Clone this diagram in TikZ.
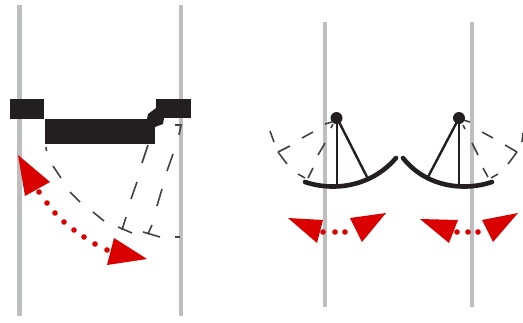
\documentclass[tikz,border=0pt]{standalone}
\definecolor{pole}{HTML}{BCBEC0}
\definecolor{ink}{HTML}{231F20}
\definecolor{arrowred}{HTML}{DA0000}
\tikzset{
  polebar/.style={draw=pole,line width=4.4pt},
  solidblock/.style={fill=ink,draw=none},
  dashpiece/.style={draw=ink!85,line width=1.6pt},
  armline/.style={draw=ink,line width=2.4pt},
  leafarc/.style={draw=ink,line width=4.6pt,line cap=round},
  redtip/.style={fill=arrowred,draw=none},
  reddot/.style={fill=arrowred,draw=none}
}
\begin{document}
\begin{tikzpicture}[x=1pt,y=-1pt]
\useasboundingbox (0,0) rectangle (523,322);
% poles
\draw[polebar] (19.5,5) -- (19.5,316);
\draw[polebar] (181,5) -- (181,316);
\draw[polebar] (325,22) -- (325,307);
\draw[polebar] (472,22) -- (472,307);
% left door: solid blocks
\fill[solidblock] (10,99) rectangle (44,118.5);
\fill[solidblock] (45,119) rectangle (155,144);
\fill[solidblock] (156,99) rectangle (191,118);
\fill[solidblock] (147,119) -- (148,114) -- (156,108) -- (164,118) -- (163,124) -- (155,127) -- (155,119) -- cycle;
% left door: dashed outlines
\foreach \a/\b/\c/\d in {46/147/46.5/151,53/166/61/178,70/192/80/202,93/212/104/221,118/227/132/233,143/232/160/237,175/237/180/237,
  148/145/142/163,137/182/131/199,126/217/122/230,173/154/167/171,162/189/157/206,152/225/148/234}
  \draw[dashpiece] (\a,\b) -- (\c,\d);
\draw[dashpiece] (175,125) -- (181,125) -- (179,135);
% left door: red arrow
\foreach \a/\b in {39/192,47/203,55/213,64/222,74/230,84/237,95/244,107/250}
  \fill[reddot] (\a,\b) circle (2.8pt);
\fill[redtip] (18,155) -- (50,182) -- (25,196) -- cycle;
\fill[redtip] (147,259) -- (107,265) -- (114,238) -- cycle;
% right doors: dashed outlines
\foreach \a/\b/\c/\d in {332/122/325/124,333/124/331/128,313/132/302/138,290/146/278/152,278/152/287/164,270/131/274/142,
  325/143/318/155,313/168/308/178,298/174/305/178,
  470/122/463/120,463/125/465/129,482/132/493/138,505/145/517/152,517/152/508/164,523/133/522/142,
  472/143/478/155,483/168/488/177,498/174/491/178}
  \draw[dashpiece] (\a,\b) -- (\c,\d);
% right doors: arms and leaves
\draw[armline] (337,118) -- (337,187);
\draw[armline] (337,118) -- (367,177);
\draw[armline] (459,118) -- (459,187);
\draw[armline] (459,118) -- (428,177);
\fill[ink] (336.5,118) circle (6pt);
\fill[ink] (459,118) circle (6pt);
\draw[leafarc] (305,182) .. controls (335,192) and (372,186) .. (396,158);
\draw[leafarc] (403,158) .. controls (425,186) and (462,192) .. (492,182);
% right doors: red arrows
\foreach \a in {323,335,345,457,468,478}
  \fill[reddot] (\a,232) circle (2.8pt);
\fill[redtip] (288,218) -- (323,220) -- (317,243) -- cycle;
\fill[redtip] (386,213) -- (350,218) -- (362,242) -- cycle;
\fill[redtip] (420,219) -- (458,220) -- (449,243) -- cycle;
\fill[redtip] (518,213) -- (482,220) -- (493,242) -- cycle;
\end{tikzpicture}
\end{document}
